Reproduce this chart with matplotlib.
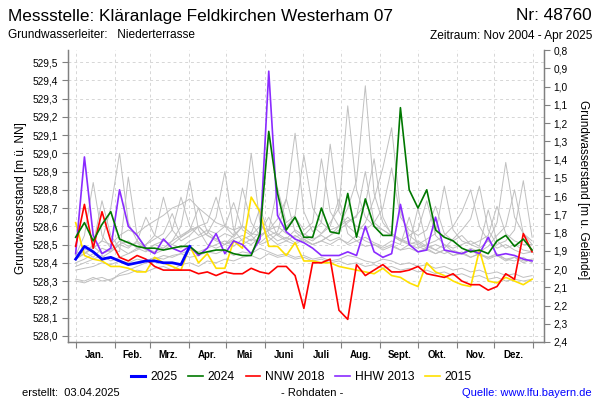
import matplotlib
matplotlib.use('Agg')
import matplotlib.pyplot as plt
from matplotlib.lines import Line2D

plt.rcParams['font.family'] = ['Liberation Sans', 'DejaVu Sans']

# ---------------- data ----------------
GROUND = 530.366  # Geländehöhe [m ü. NN]

week_day = list(range(0, 365, 7))          # 53 weekly dates (day of year)
month_start = [0, 31, 59, 90, 120, 151, 181, 212, 243, 273, 304, 334, 365]
month_mid = [15, 45, 74, 105, 135, 166, 196, 227, 258, 288, 319, 349]
month_labels = ['Jan.', 'Feb.', 'Mrz.', 'Apr.', 'Mai', 'Juni', 'Juli',
                'Aug.', 'Sept.', 'Okt.', 'Nov.', 'Dez.']

y2025 = [528.42, 528.49, 528.46, 528.42, 528.43, 528.41, 528.39, 528.40,
         528.41, 528.41, 528.40, 528.40, 528.39, 528.49]

y2024 = [528.54, 528.62, 528.52, 528.61, 528.68, 528.53, 528.51, 528.49, 528.48, 528.48,
         528.47, 528.48, 528.49, 528.49, 528.45, 528.46, 528.47, 528.47, 528.45, 528.44,
         528.44, 528.56, 529.12, 528.78, 528.58, 528.65, 528.54, 528.54, 528.70, 528.57,
         528.56, 528.78, 528.54, 528.75, 528.60, 528.55, 528.55, 529.25, 528.80, 528.70,
         528.80, 528.58, 528.54, 528.52, 528.48, 528.46, 528.47, 528.45, 528.52, 528.55,
         528.49, 528.53, 528.47]

nnw2018 = [528.49, 528.72, 528.48, 528.68, 528.52, 528.43, 528.41, 528.44, 528.42, 528.38,
           528.36, 528.36, 528.36, 528.36, 528.34, 528.35, 528.33, 528.35, 528.34, 528.34,
           528.37, 528.35, 528.34, 528.38, 528.38, 528.33, 528.15, 528.40, 528.40, 528.42,
           528.14, 528.09, 528.39, 528.33, 528.36, 528.39, 528.35, 528.35, 528.36, 528.38,
           528.34, 528.33, 528.32, 528.34, 528.30, 528.28, 528.28, 528.25, 528.27, 528.34,
           528.31, 528.56, 528.46]

hhw2013 = [528.45, 528.98, 528.55, 528.45, 528.48, 528.80, 528.60, 528.55, 528.48, 528.45,
           528.53, 528.48, 528.46, 528.49, 528.44, 528.48, 528.56, 528.45, 528.52, 528.50,
           528.45, 528.53, 529.45, 528.66, 528.57, 528.53, 528.51, 528.48, 528.44, 528.44,
           528.44, 528.46, 528.44, 528.60, 528.46, 528.43, 528.45, 528.72, 528.50, 528.46,
           528.47, 528.65, 528.47, 528.46, 528.45, 528.47, 528.45, 528.54, 528.44, 528.45,
           528.44, 528.42, 528.41]

y2015 = [528.62, 528.44, 528.42, 528.41, 528.38, 528.38, 528.37, 528.35, 528.35, 528.43,
         528.40, 528.38, 528.36, 528.49, 528.40, 528.45, 528.37, 528.37, 528.52, 528.48,
         528.76, 528.68, 528.49, 528.49, 528.44, 528.51, 528.41, 528.41, 528.40, 528.40,
         528.38, 528.37, 528.36, 528.35, 528.34, 528.37, 528.33, 528.32, 528.29, 528.27,
         528.40, 528.35, 528.33, 528.30, 528.28, 528.27, 528.47, 528.30, 528.29, 528.32,
         528.30, 528.28, 528.31]

gray_years = [
    [528.30, 528.29, 528.31, 528.32, 528.30, 528.34, 528.36, 528.38, 528.40, 528.42,
     528.44, 528.43, 528.45, 528.47, 528.46, 528.48, 528.50, 528.52, 528.49, 528.53,
     528.55, 528.50, 528.52, 528.56, 528.53, 528.58, 528.55, 528.60, 528.56, 528.62,
     528.70, 529.26, 528.80, 528.65, 528.60, 528.58, 528.55, 528.53, 528.50, 528.52,
     528.49, 528.47, 528.50, 528.46, 528.45, 528.47, 528.44, 528.43, 528.45, 528.42,
     528.41, 528.43, 528.40],
    [528.42, 528.45, 528.48, 528.52, 528.70, 529.00, 528.62, 528.52, 528.48, 528.46,
     528.48, 528.52, 528.60, 528.85, 528.58, 528.50, 528.48, 528.50, 528.55, 528.60,
     529.00, 528.62, 528.54, 528.50, 528.52, 528.55, 528.52, 528.50, 528.52, 528.55,
     528.60, 528.70, 528.85, 529.37, 528.78, 528.62, 528.56, 528.53, 528.51, 528.50,
     528.53, 528.56, 528.82, 528.58, 528.52, 528.50, 528.48, 528.52, 528.62, 528.95,
     528.65, 528.56, 528.52],
    [528.44, 528.55, 528.84, 528.55, 528.48, 528.46, 528.87, 528.55, 528.47, 528.45,
     528.47, 528.50, 528.48, 528.52, 528.54, 528.56, 528.65, 528.90, 528.58, 528.52,
     528.50, 528.54, 528.58, 528.64, 528.75, 529.11, 528.68, 528.57, 528.62, 529.05,
     528.68, 528.60, 528.56, 528.62, 528.75, 528.92, 529.14, 528.68, 528.55, 528.51,
     528.48, 528.50, 528.48, 528.53, 528.58, 528.64, 528.82, 528.58, 528.50, 528.52,
     528.58, 528.85, 528.54],
    [528.42, 528.45, 528.50, 528.74, 528.55, 528.48, 528.45, 528.47, 528.50, 528.55,
     528.76, 528.58, 528.52, 528.55, 528.60, 528.62, 528.76, 528.60, 528.55, 528.81,
     528.62, 528.55, 528.58, 528.55, 528.60, 528.65, 528.58, 528.62, 528.97, 528.68,
     528.60, 528.63, 528.65, 528.90, 528.62, 528.58, 528.55, 528.52, 528.55, 528.58,
     528.74, 528.55, 528.50, 528.48, 528.50, 528.52, 528.49, 528.69, 528.52, 528.48,
     528.50, 528.47, 528.46],
    [528.40, 528.42, 528.45, 528.43, 528.46, 528.50, 528.48, 528.52, 528.65, 528.55,
     528.52, 528.58, 528.76, 528.60, 528.55, 528.58, 528.56, 528.60, 528.73, 528.58,
     528.55, 528.60, 528.58, 528.81, 528.62, 528.66, 528.99, 528.70, 528.62, 528.58,
     528.60, 528.65, 528.60, 528.58, 528.62, 528.70, 528.92, 528.65, 528.58, 528.55,
     528.58, 528.71, 528.56, 528.52, 528.55, 528.50, 528.52, 528.55, 528.71, 528.56,
     528.52, 528.50, 528.50],
    [528.38, 528.40, 528.42, 528.44, 528.41, 528.43, 528.45, 528.48, 528.46, 528.50,
     528.48, 528.52, 528.55, 528.58, 528.60, 528.55, 528.52, 528.50, 528.53, 528.55,
     528.52, 528.57, 528.65, 528.55, 528.52, 528.50, 528.53, 528.50, 528.52, 528.55,
     528.58, 528.62, 528.66, 528.72, 528.97, 528.65, 528.55, 528.52, 528.50, 528.48,
     528.50, 528.52, 528.55, 528.60, 528.68, 528.80, 528.60, 528.52, 528.48, 528.50,
     528.47, 528.45, 528.46],
    [528.36, 528.37, 528.38, 528.40, 528.39, 528.41, 528.40, 528.42, 528.41, 528.43,
     528.42, 528.44, 528.45, 528.43, 528.44, 528.46, 528.45, 528.47, 528.44, 528.46,
     528.45, 528.48, 528.46, 528.44, 528.45, 528.43, 528.44, 528.42, 528.43, 528.41,
     528.42, 528.44, 528.43, 528.41, 528.40, 528.42, 528.41, 528.39, 528.40, 528.38,
     528.39, 528.37, 528.38, 528.36, 528.37, 528.35, 528.36, 528.34, 528.35, 528.33,
     528.34, 528.32, 528.33],
    [528.31, 528.30, 528.32, 528.30, 528.31, 528.33, 528.34, 528.36, 528.35, 528.37,
     528.38, 528.36, 528.39, 528.40, 528.38, 528.41, 528.40, 528.42, 528.41, 528.43,
     528.44, 528.42, 528.45, 528.43, 528.44, 528.42, 528.43, 528.41, 528.42, 528.40,
     528.41, 528.39, 528.40, 528.38, 528.39, 528.37, 528.38, 528.36, 528.37, 528.35,
     528.36, 528.34, 528.35, 528.33, 528.34, 528.32, 528.33, 528.31, 528.32, 528.30,
     528.31, 528.30, 528.31],
    [528.44, 528.46, 528.43, 528.48, 528.46, 528.50, 528.52, 528.48, 528.50, 528.53,
     528.56, 528.67, 528.54, 528.57, 528.60, 528.55, 528.53, 528.56, 528.54, 528.60,
     528.56, 528.70, 528.56, 528.52, 528.54, 528.51, 528.54, 528.52, 528.56, 528.60,
     528.75, 528.56, 528.52, 528.54, 528.51, 528.49, 528.52, 528.50, 528.65, 528.49,
     528.47, 528.45, 528.47, 528.44, 528.45, 528.43, 528.45, 528.42, 528.44, 528.41,
     528.43, 528.40, 528.42],
    [528.43, 528.45, 528.48, 528.52, 528.50, 528.55, 528.58, 528.56, 528.60, 528.63,
     528.66, 528.70, 528.72, 528.75, 528.70, 528.66, 528.62, 528.60, 528.58, 528.60,
     528.56, 528.55, 528.58, 528.60, 528.56, 528.54, 528.56, 528.53, 528.55, 528.52,
     528.54, 528.50, 528.52, 528.49, 528.50, 528.48, 528.50, 528.47, 528.48, 528.46,
     528.48, 528.45, 528.47, 528.44, 528.46, 528.43, 528.45, 528.43, 528.44, 528.42,
     528.43, 528.41, 528.42],
    [528.45, 528.47, 528.49, 528.45, 528.47, 528.52, 528.49, 528.51, 528.47, 528.50,
     528.52, 528.50, 528.54, 528.58, 528.70, 528.57, 528.53, 528.50, 528.52, 528.50,
     528.53, 528.51, 528.55, 528.57, 528.75, 528.57, 528.53, 528.50, 528.52, 528.50,
     528.53, 528.51, 528.55, 528.52, 528.50, 528.47, 528.49, 528.47, 528.50, 528.70,
     528.50, 528.47, 528.45, 528.47, 528.45, 528.48, 528.46, 528.49, 528.55, 528.60,
     528.80, 528.56, 528.50],
]

series_labels = ['2025', '2024', 'NNW 2018', 'HHW 2013', '2015']
series_colors = ['#0000FF', '#007800', '#FF0000', '#8A2BFF', '#FFE000']

# ---------------- figure ----------------
fig = plt.figure(figsize=(6, 4), dpi=100)
ax = fig.add_axes([68 / 600, 1 - 342 / 400, 476 / 600, 292 / 400])

ylo, yhi = 527.966, 529.566
ax.set_ylim(ylo, yhi)
ax.set_xlim(-6.1, 373.5)

for g in gray_years:
    ax.plot(week_day, g, color='#C0C0C0', lw=0.7, zorder=2)

ax.plot(week_day, y2015, color=series_colors[4], lw=1.2, zorder=3)
ax.plot(week_day, hhw2013, color=series_colors[3], lw=1.2, zorder=4)
ax.plot(week_day, nnw2018, color=series_colors[2], lw=1.2, zorder=5)
ax.plot(week_day, y2024, color=series_colors[1], lw=1.2, zorder=6)
ax.plot(week_day[:len(y2025)], y2025, color=series_colors[0], lw=2.0, zorder=7)

# left axis ticks
left_ticks = [528.0 + 0.1 * i for i in range(16)]
ax.set_yticks(left_ticks)
ax.set_yticklabels([f"{v:.1f}".replace('.', ',') for v in left_ticks], fontsize=7.3)

# x ticks: month boundaries (ticks/grid) and month labels in between
ax.set_xticks(month_start)
ax.set_xticklabels([])
ax.set_xticks(month_mid, minor=True)
ax.set_xticklabels(month_labels, minor=True, fontsize=7, fontweight='bold')
ax.tick_params(axis='x', which='minor', length=0, pad=6)
ax.tick_params(axis='x', which='major', length=4, color='#808080', direction='out')
ax.tick_params(axis='y', length=4, color='#808080', pad=3)

ax.grid(True, which='major', axis='both', color='#D6D6D6', linestyle=(0, (3, 3)), lw=0.7)
ax.set_axisbelow(True)

ax.spines['top'].set_visible(False)
for s in ['left', 'bottom', 'right']:
    ax.spines[s].set_color('#808080')
    ax.spines[s].set_linewidth(1.0)

# right axis: depth below ground
ax2 = ax.twinx()
ax2.set_ylim(GROUND - ylo, GROUND - yhi)
right_ticks = [0.8 + 0.1 * i for i in range(17)]
ax2.set_yticks(right_ticks)
ax2.set_yticklabels([f"{v:.1f}".replace('.', ',') for v in right_ticks], fontsize=7.3)
ax2.tick_params(axis='y', length=4, color='#808080', pad=3)
ax2.spines['top'].set_visible(False)
for s in ['left', 'bottom', 'right']:
    ax2.spines[s].set_color('#808080')

# axis labels
fig.text(0.035, 0.505, 'Grundwasserstand [m ü. NN]', rotation=90,
         ha='center', va='center', fontsize=8.5)
fig.text(0.972, 0.525, 'Grundwasserstand [m u. Gelände]', rotation=270,
         ha='center', va='center', fontsize=8.5)

# header
fig.text(8 / 600, 1 - 20.5 / 400, 'Messstelle: Kläranlage Feldkirchen Westerham 07',
         fontsize=12.4, ha='left', va='baseline')
fig.text(592 / 600, 1 - 20.5 / 400, 'Nr: 48760', fontsize=12.4, ha='right', va='baseline')
fig.text(8 / 600, 1 - 38.5 / 400, 'Grundwasserleiter:   Niederterrasse',
         fontsize=8.6, ha='left', va='baseline')
fig.text(592 / 600, 1 - 38.5 / 400, 'Zeitraum: Nov 2004 - Apr 2025',
         fontsize=8.6, ha='right', va='baseline')

# legend
handles = [Line2D([], [], color=series_colors[0], lw=2.2)] + \
          [Line2D([], [], color=c, lw=1.2) for c in series_colors[1:]]
fig.legend(handles, series_labels, loc='center', bbox_to_anchor=(0.502, 1 - 377 / 400),
           ncol=5, frameon=False, fontsize=8.7, handlelength=1.2,
           handletextpad=0.4, columnspacing=0.9, borderpad=0)

# footer
fig.text(22 / 600, 1 - 395.5 / 400, 'erstellt:  03.04.2025', fontsize=8, ha='left', va='baseline')
fig.text(312 / 600, 1 - 395.5 / 400, '- Rohdaten -', fontsize=8, ha='center', va='baseline')
fig.text(592 / 600, 1 - 395.5 / 400, 'Quelle: www.lfu.bayern.de', fontsize=8,
         ha='right', va='baseline', color='#0000FF')

fig.savefig('out.png', dpi=100)
